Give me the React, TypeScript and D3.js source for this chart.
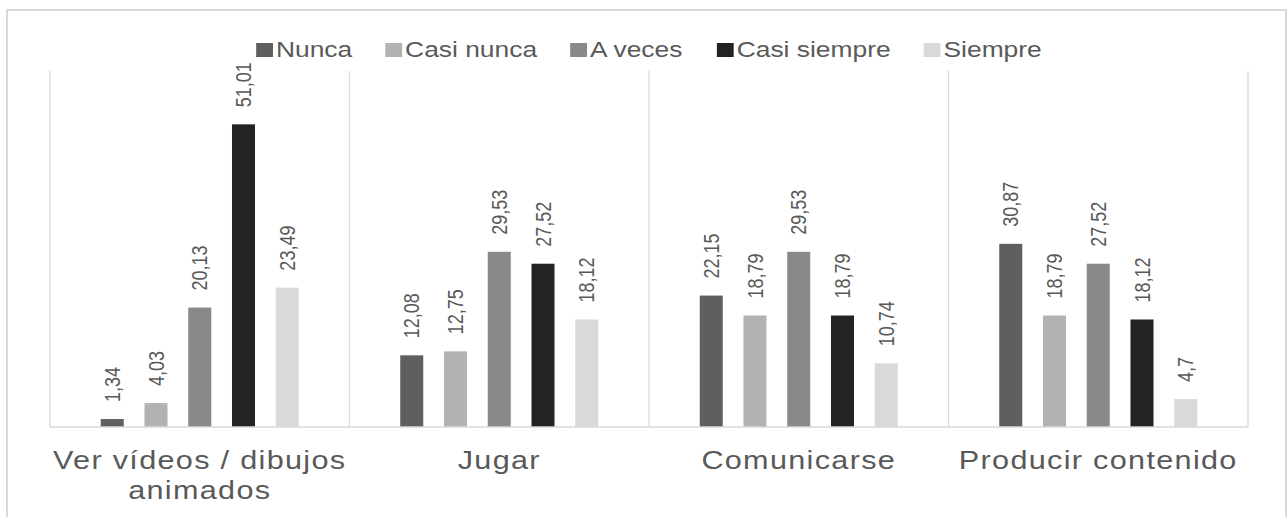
import React from "react";
import * as d3 from "d3";

const categories = [
  "Ver vídeos / dibujos animados",
  "Jugar",
  "Comunicarse",
  "Producir contenido",
];
const seriesNames = ["Nunca", "Casi nunca", "A veces", "Casi siempre", "Siempre"];
const nunca = [1.34, 12.08, 22.15, 30.87];
const casiNunca = [4.03, 12.75, 18.79, 18.79];
const aVeces = [20.13, 29.53, 29.53, 27.52];
const casiSiempre = [51.01, 27.52, 18.79, 18.12];
const siempre = [23.49, 18.12, 10.74, 4.7];
const seriesValues = [nunca, casiNunca, aVeces, casiSiempre, siempre];
const seriesColors = ["#5f5f5f", "#b2b2b2", "#898989", "#232323", "#d9d9d9"];
const yDomain = [0, 60];

const W = 1287;
const H = 517;
const SX = 1.2; // horizontal stretch of the reference picture
const FONT = '"Liberation Sans", Arial, sans-serif';

let ctx: CanvasRenderingContext2D | null = null;
function measure(text: string, size: number, letterSpacing = 0): number {
  if (!ctx && typeof document !== "undefined") {
    const c = document.createElement("canvas");
    ctx = c.getContext("2d");
  }
  let w = text.length * size * 0.52;
  if (ctx) {
    ctx.font = `${size}px "Liberation Sans", Arial, sans-serif`;
    w = ctx.measureText(text).width;
  }
  return (w + letterSpacing * Math.max(0, text.length - 1)) * SX;
}

function wrap(text: string, size: number, ls: number, maxW: number): string[] {
  const words = text.split(" ");
  const lines: string[] = [];
  let cur = "";
  for (const w of words) {
    const t = cur ? cur + " " + w : w;
    if (cur && measure(t, size, ls) > maxW) {
      lines.push(cur);
      cur = w;
    } else cur = t;
  }
  if (cur) lines.push(cur);
  return lines;
}

export default function App() {
  const plotLeft = 50;
  const plotRight = 1248;
  const plotTop = 71;
  const plotBottom = 427;

  const x0 = d3.scaleBand<string>().domain(categories).range([plotLeft, plotRight]).paddingInner(0).paddingOuter(0);
  const x1 = d3
    .scaleBand<string>()
    .domain(seriesNames)
    .range([0, x0.bandwidth()])
    .paddingInner(0.474)
    .paddingOuter(1.16);
  const y = d3.scaleLinear().domain(yDomain).range([plotBottom, plotTop]);

  const labelSize = 18;
  const legendSize = 22;
  const catSize = 25.5;
  const catLs = 1.1;

  // legend layout
  const sqW = 14 * SX;
  const sqGap = 3;
  const itemGap = 33;
  const widths = seriesNames.map((s) => sqW + sqGap + measure(s, legendSize));
  const total = widths.reduce((a, b) => a + b, 0) + itemGap * (seriesNames.length - 1);
  let lx = (plotLeft + plotRight) / 2 - total / 2;
  const legendItems = seriesNames.map((s, i) => {
    const item = { name: s, x: lx, color: seriesColors[i] };
    lx += widths[i] + itemGap;
    return item;
  });
  const legendBase = 57;

  const separators = d3.range(categories.length + 1).map((i) =>
    i < categories.length ? (x0(categories[i]) as number) : plotRight
  );

  return (
    <svg
      width={W}
      height={H}
      style={{ position: "absolute", left: 0, top: 0, background: "#fff" }}
      fontFamily={FONT}
    >
      <rect x={0} y={0} width={W} height={H} fill="#fff" />
      <rect x={7} y={10} width={1279} height={540} fill="none" stroke="#d9d9d9" strokeWidth={2} />

      {separators.map((sx, i) => (
        <line key={"sep" + i} x1={sx} x2={sx} y1={plotTop} y2={plotBottom} stroke="#d9d9d9" strokeWidth={1.3} />
      ))}

      {categories.map((c, ci) =>
        seriesNames.map((s, si) => {
          const v = seriesValues[si][ci];
          const bx = (x0(c) as number) + (x1(s) as number);
          const by = y(v);
          return (
            <rect
              key={c + s}
              x={bx}
              y={by}
              width={x1.bandwidth()}
              height={plotBottom - by}
              fill={seriesColors[si]}
            />
          );
        })
      )}

      <line x1={plotLeft} x2={plotRight} y1={plotBottom} y2={plotBottom} stroke="#d9d9d9" strokeWidth={1.5} />

      {categories.map((c, ci) =>
        seriesNames.map((s, si) => {
          const v = seriesValues[si][ci];
          const cx = (x0(c) as number) + (x1(s) as number) + x1.bandwidth() / 2;
          const ty = y(v) - 17;
          return (
            <text
              key={"l" + c + s}
              transform={`translate(${cx},${ty}) scale(${SX},1) rotate(-90)`}
              dy="0.35em"
              fontSize={labelSize}
              fill="#595959"
              textAnchor="start"
            >
              {String(v).replace(".", ",")}
            </text>
          );
        })
      )}

      {categories.map((c) => {
        const lines = wrap(c, catSize, catLs, x0.bandwidth());
        const cx = (x0(c) as number) + x0.bandwidth() / 2;
        return lines.map((ln, li) => (
          <text
            key={"c" + c + li}
            transform={`translate(${cx},${469 + li * 30}) scale(${SX},1)`}
            fontSize={catSize}
            letterSpacing={catLs}
            fill="#595959"
            textAnchor="middle"
          >
            {ln}
          </text>
        ));
      })}

      {legendItems.map((it) => (
        <g key={"lg" + it.name}>
          <rect x={it.x} y={legendBase - 14} width={sqW} height={14} fill={it.color} />
          <text
            transform={`translate(${it.x + sqW + sqGap},${legendBase}) scale(${SX},1)`}
            fontSize={legendSize}
            fill="#595959"
          >
            {it.name}
          </text>
        </g>
      ))}
    </svg>
  );
}
